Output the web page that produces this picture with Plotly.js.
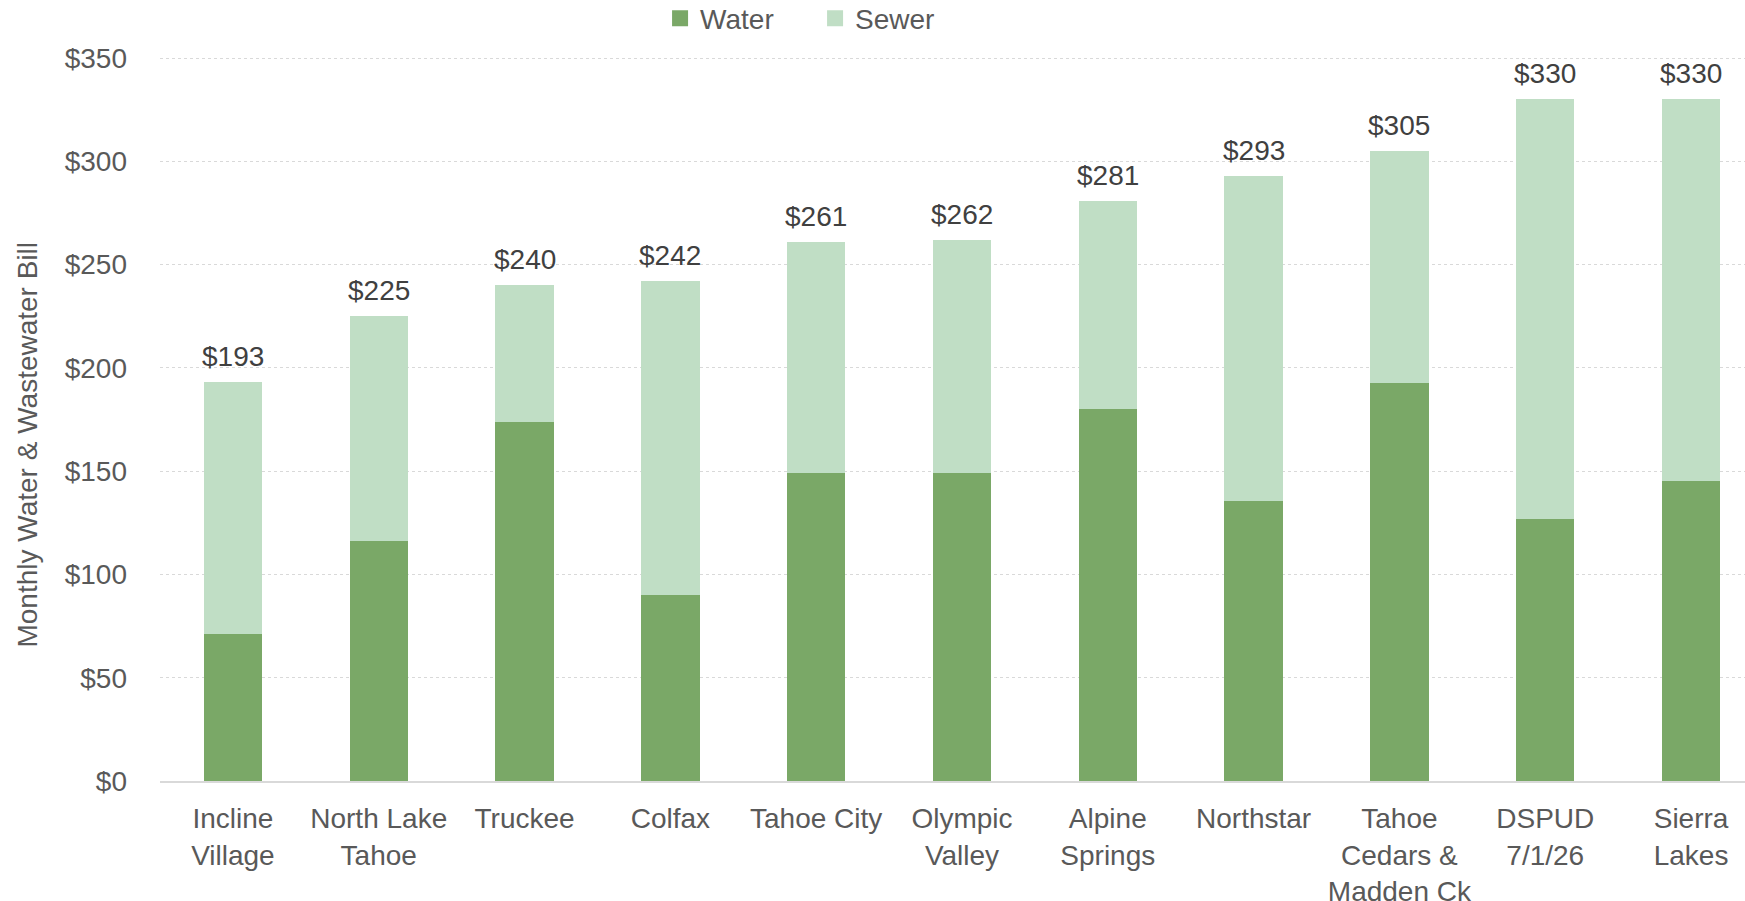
<!DOCTYPE html>
<html>
<head>
<meta charset="utf-8">
<script src="https://cdn.plot.ly/plotly-3.0.1.min.js"></script>
<style>
html,body{margin:0;padding:0;overflow:hidden;background:#fff;}
#chart{width:1745px;height:901px;}
</style>
</head>
<body>
<div id="chart"></div>
<script>
var categories = ["Incline<br>Village", "North Lake<br>Tahoe", "Truckee", "Colfax", "Tahoe City", "Olympic<br>Valley", "Alpine<br>Springs", "Northstar", "Tahoe<br>Cedars &<br>Madden Ck", "DSPUD<br>7/1/26", "Sierra<br>Lakes"];
var water = [71, 116, 174, 90, 149, 149, 180, 135.5, 192.5, 127, 145];
var sewer = [122, 109, 66, 152, 112, 113, 101, 157.5, 112.5, 203, 185.4];
var yTickVals = [0, 50, 100, 150, 200, 250, 300, 350];
var yTickText = ["$0", "$50", "$100", "$150", "$200", "$250", "$300", "$350"];

var totals = water.map(function(w, i){ return w + sewer[i]; });
var totalLabels = totals.map(function(t){ return "$" + Math.round(t); });

var FONT = "Liberation Sans, Arial, sans-serif";
var WATER_COLOR = "#7aa867";
var SEWER_COLOR = "#c0dec5";

var traces = [
  {type: "bar", name: "Water", x: categories, y: water, width: 0.4, showlegend: false,
   marker: {color: WATER_COLOR, line: {width: 0}}, hoverinfo: "skip"},
  {type: "bar", name: "Sewer", x: categories, y: sewer, width: 0.4, showlegend: false,
   marker: {color: SEWER_COLOR, line: {width: 0}}, hoverinfo: "skip"},
  // legend entries (square swatches)
  {type: "scatter", mode: "markers", name: "Water", x: [null], y: [null],
   marker: {symbol: "square", size: 17, color: WATER_COLOR}, hoverinfo: "skip"},
  {type: "scatter", mode: "markers", name: "Sewer", x: [null], y: [null],
   marker: {symbol: "square", size: 17, color: SEWER_COLOR}, hoverinfo: "skip"}
];

var annotations = categories.map(function(c, i){
  return {x: c, y: totals[i], xref: "x", yref: "y", text: totalLabels[i],
          showarrow: false, xanchor: "center", yanchor: "bottom", yshift: 8,
          font: {family: FONT, size: 28, color: "#404040"}};
});
annotations.push({text: "Monthly Water &amp; Wastewater Bill", xref: "paper", yref: "paper",
     x: -0.0833, y: 0.4647, xanchor: "center", yanchor: "middle", textangle: -90,
     showarrow: false, font: {family: FONT, size: 28, color: "#595959"}});

var layout = {
  width: 1745, height: 901,
  margin: {l: 160, r: 0, t: 57, b: 120, pad: 0, autoexpand: false},
  barmode: "stack",
  paper_bgcolor: "#ffffff", plot_bgcolor: "#ffffff",
  font: {family: FONT, size: 28, color: "#595959"},
  showlegend: true,
  legend: {orientation: "h", x: 0.3155, xanchor: "left", y: 1.053, yanchor: "middle",
           entrywidth: 110, entrywidthmode: "pixels", itemwidth: 30,
           font: {family: FONT, size: 28, color: "#595959"}, traceorder: "normal",
           bgcolor: "rgba(0,0,0,0)"},
  xaxis: {type: "category", range: [-0.5, 10.37], showgrid: false, zeroline: false,
          showline: true, linecolor: "#d9d9d9", linewidth: 1.5, ticks: "",
          tickfont: {family: FONT, size: 28, color: "#595959"}, ticklabelstandoff: 12,
          fixedrange: true},
  yaxis: {range: [0, 350.5], tickvals: yTickVals, ticktext: yTickText,
          showgrid: true, gridcolor: "#d9d9d9", gridwidth: 1, griddash: "dot",
          zeroline: false, showline: false, ticks: "", ticklabelstandoff: 32,
          tickfont: {family: FONT, size: 28, color: "#595959"}, fixedrange: true},
  annotations: annotations
};

Plotly.newPlot("chart", traces, layout, {displayModeBar: false, staticPlot: true});
</script>
</body>
</html>
